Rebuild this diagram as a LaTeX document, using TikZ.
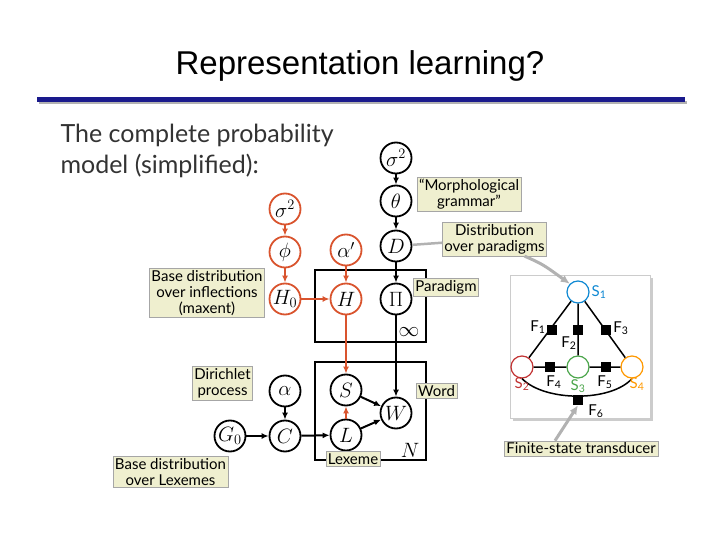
\documentclass[tikz,border=0pt]{standalone}
\usepackage{fontspec}
\setmainfont{Lato}
\newfontfamily\arialf{Liberation Sans}
\usetikzlibrary{arrows.meta,shadows,calc}
\definecolor{rd}{HTML}{D9542E}
\definecolor{lbl}{HTML}{EFEFCF}
\definecolor{nv}{HTML}{1A1A8C}
\begin{document}
\begin{tikzpicture}[x=1pt,y=-1pt,
 rv/.style={circle,draw=black,line width=1.8pt,minimum size=31pt,inner sep=0pt,font=\fontsize{20}{20}\selectfont},
 rr/.style={rv,draw=rd},
 lab/.style={draw=gray!70,fill=lbl,font=\fontsize{15}{16}\selectfont,align=center,inner sep=2pt},
 ar/.style={-{Latex[length=7pt,width=6pt]},line width=2pt},
 arr/.style={ar,draw=rd,line width=1.5pt},
 plate/.style={draw,line width=1.3pt},
 st/.style={circle,draw,fill=white,minimum size=22pt,inner sep=0pt,line width=1.2pt},
 sq/.style={fill=black,minimum size=10pt,inner sep=0pt},
 fl/.style={font=\fontsize{15}{15}\selectfont},
 ga/.style={-{Latex[length=9pt,width=8pt]},draw=gray!60,line width=3pt}]
\useasboundingbox (0,0) rectangle (720,540);
\node[font=\arialf\fontsize{33}{33}\selectfont] (title) at (360,66) {Representation learning?};
\fill[gray!60] (39,101) rectangle (687,104);
\fill[nv] (37,97) rectangle (685,102);
\node[anchor=north west,align=left,font=\fontsize{25}{31}\selectfont,text=black!80] (intro) at (57,121) {The complete probability\\model (simplified):};
% plates
\draw[plate] (315,270) rectangle (426,342);
\node[font=\fontsize{20}{20}\selectfont] (inf) at (409,332) {$\infty$};
\draw[plate] (315,362) rectangle (426,460);
\node[font=\fontsize{20}{20}\selectfont] (nn) at (410,450) {$N$};
% nodes
\node[rv] (s2) at (396,158) {$\sigma^2$};
\node[rv] (th) at (396,201) {$\theta$};
\node[rv] (D) at (396,246) {$D$};
\node[rv] (Pi) at (396,299) {$\Pi$};
\node[rr] (rs2) at (285,209) {$\sigma^2$};
\node[rr] (phi) at (285,252) {$\phi$};
\node[rr] (H0) at (285,299) {$H_0$};
\node[rr] (ap) at (346,250) {$\alpha'$};
\node[rr] (H) at (346,299) {$H$};
\node[rv] (S) at (346,390) {$S$};
\node[rv] (L) at (346,435) {$L$};
\node[rv] (W) at (396,413) {$W$};
\node[rv] (al) at (285,391) {$\alpha$};
\node[rv] (C) at (285,436) {$C$};
\node[rv] (G0) at (230,436) {$G_0$};
% edges
\draw[ar] (s2)--(th); \draw[ar] (th)--(D); \draw[ar] (D)--(Pi); \draw[ar] (Pi)--(W);
\draw[arr] (rs2)--(phi); \draw[arr] (phi)--(H0); \draw[arr] (H0)--(H); \draw[arr] (ap)--(H);
\draw[arr] (H)--(S); \draw[arr] (L)--(S);
\draw[ar] (S)--(W); \draw[ar] (L)--(W); \draw[ar] (al)--(C); \draw[ar] (G0)--(C); \draw[ar] (C)--(L);
% labels
\node[lab] (mg) at (469,194.5) {“Morphological\\grammar”};
\node[lab] (dp) at (494.5,239) {Distribution\\over paradigms};
\draw[gray!60,line width=2.5pt] (D)--(dp);
\node[lab] (pd) at (446,287) {Paradigm};
\node[lab] (bdi) at (207,293) {Base distribution\\over inflections\\(maxent)};
\node[lab] (dir) at (222.5,383) {Dirichlet\\process};
\node[lab] (wd) at (436.5,391) {Word};
\node[lab] (lx) at (353,459) {Lexeme};
\node[lab] (bdl) at (170.5,472) {Base distribution\\over Lexemes};
\node[lab] (fst) at (581,448.5) {Finite-state transducer};
% FST box
\node[draw=gray!40,fill=white,drop shadow={opacity=0.4},minimum width=140pt,minimum height=143pt] (box) at (580,346.5) {};
\node[st,draw=cyan!70!blue] (S1) at (578,292) {};
\node[st,draw=red!70!black!80] (Sb) at (522,367) {};
\node[st,draw=green!50!black!70] (Sc) at (578,367) {};
\node[st,draw=orange!80!yellow] (Sd) at (632,367) {};
\draw[line width=1.5pt] (S1)--(Sb) (S1)--(Sc) (S1)--(Sd) (Sb)--(Sc)--(Sd);
\draw[line width=1.5pt] (Sb.south) .. controls (545,402) and (611,402) .. (Sd.south);
\node[sq] (F1) at (552,330) {}; \node[sq] (F2) at (578,330) {}; \node[sq] (F3) at (606,330) {};
\node[sq] (F4) at (550,367) {}; \node[sq] (F5) at (606,367) {}; \node[sq] (F6) at (578,400) {};
\node[fl,text=cyan!70!blue] at (599,292) {S\textsubscript{1}};
\node[fl] at (538,327) {F\textsubscript{1}};
\node[fl] at (569,343) {F\textsubscript{2}};
\node[fl] at (621,328) {F\textsubscript{3}};
\node[fl] at (554,382) {F\textsubscript{4}};
\node[fl] at (605,382) {F\textsubscript{5}};
\node[fl] at (596,411) {F\textsubscript{6}};
\node[fl,text=red!70!black!80] at (522,384) {S\textsubscript{2}};
\node[fl,text=green!50!black!70] at (578,386) {S\textsubscript{3}};
\node[fl,text=orange!80!yellow] at (637,384) {S\textsubscript{4}};
\coordinate (g1) at ($(dp.south)+(30,0)$);
\coordinate (g2) at ($(fst.north)+(-26,0)$);
\draw[ga] (g1) .. controls ($(g1)+(18,8)$) .. (S1.north west);
\draw[ga] (g2) -- (F6.south);
\end{tikzpicture}
\end{document}
